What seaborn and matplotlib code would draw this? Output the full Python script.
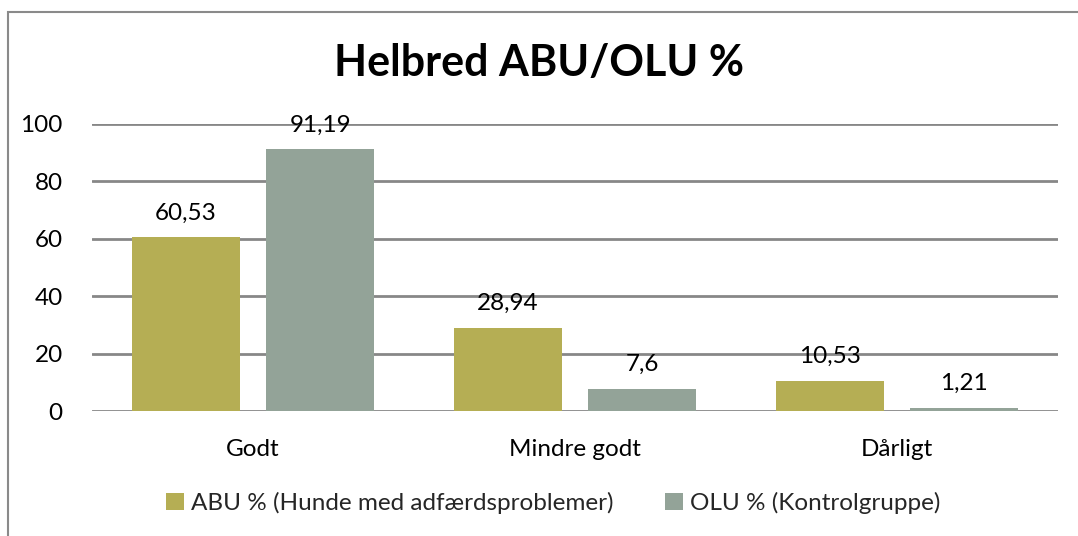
import pandas as pd
import matplotlib.pyplot as plt
import seaborn as sns
from matplotlib.patches import Rectangle, Patch

# chart data
categories = ['Godt', 'Mindre godt', 'Dårligt']
series_names = ['ABU % (Hunde med adfærdsproblemer)', 'OLU % (Kontrolgruppe)']
abu_values = [60.53, 28.94, 10.53]
olu_values = [91.19, 7.6, 1.21]
y_ticks = [0, 20, 40, 60, 80, 100]

colors = ['#B5AE54', '#93A398']

sns.set_theme(style='white')
plt.rcParams['font.family'] = ['Lato', 'DejaVu Sans']

df = pd.DataFrame({
    'Kategori': categories * 2,
    'Serie': [series_names[0]] * 3 + [series_names[1]] * 3,
    'Procent': abu_values + olu_values,
})

fig = plt.figure(figsize=(10.78, 5.36), dpi=100)
ax = fig.add_axes([92 / 1078, 1 - 411 / 536, 966 / 1078, 287 / 536])

sns.barplot(data=df, x='Kategori', y='Procent', hue='Serie', palette=colors,
            width=0.835, gap=0.197, saturation=1, linewidth=0, edgecolor='none',
            ax=ax, legend=False)

ax.set_ylim(0, 100)
ax.set_xlim(-0.5, 2.5)
ax.set_yticks(y_ticks)
ax.set_yticklabels([str(t) for t in y_ticks])
ax.yaxis.grid(True, color='#878787', linewidth=2)
ax.set_axisbelow(True)
for s in ax.spines.values():
    s.set_visible(False)
ax.tick_params(axis='y', length=0, pad=21, labelsize=17.5, labelcolor='black')
ax.tick_params(axis='x', length=0, pad=20, labelsize=17.5, labelcolor='black')
ax.set_xlabel('')
ax.set_ylabel('')

# data labels with comma decimals
for cont in ax.containers:
    labels = [('%g' % b.get_height()).replace('.', ',') for b in cont]
    ax.bar_label(cont, labels=labels, padding=10, fontsize=17.5, color='black', clip_on=False)

fig.text(0.5, 1 - 63 / 536, 'Helbred ABU/OLU %', ha='center', va='center',
         fontsize=31, fontweight='bold', color='black')

handles = [Patch(facecolor=c, edgecolor='none') for c in colors]
fig.legend(handles, series_names, loc='center', bbox_to_anchor=(553 / 1078, 1 - 503 / 536),
           ncol=2, frameon=False, fontsize=17.5, handlelength=0.75, handleheight=0.75,
           handletextpad=0.3, columnspacing=2.1)

# outer chart frame
fig.patches.append(Rectangle((8 / 1078, -0.5), 2, 1 - 12 / 536 + 0.5,
                             transform=fig.transFigure, fill=False,
                             edgecolor='#8a8a8a', linewidth=1.5))

fig.savefig('out.png', dpi=100)
